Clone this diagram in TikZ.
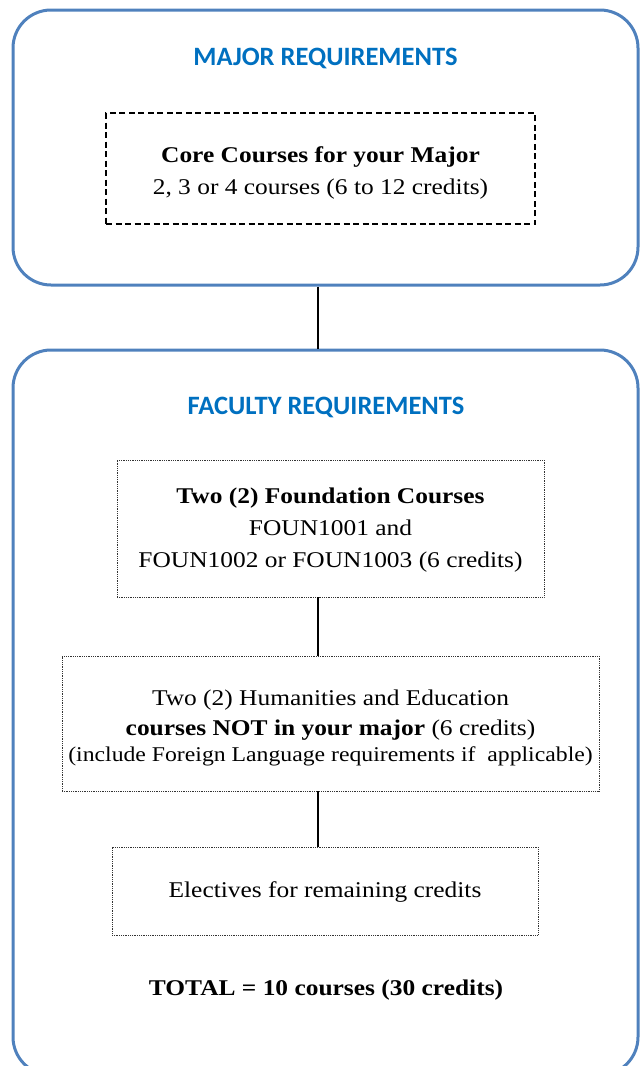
\documentclass[tikz,border=0pt]{standalone}
\usepackage{fontspec}
\setmainfont{Liberation Serif}[FakeStretch=1.13]
\newfontfamily\headfont{Carlito}
\definecolor{frameblue}{HTML}{4F81BD}
\definecolor{headblue}{HTML}{0070C0}
\begin{document}
\begin{tikzpicture}[x=1pt,y=-1pt,
  outerbox/.style={draw=frameblue,line width=3pt,rounded corners=38pt,inner sep=0pt},
  headtext/.style={font=\headfont\bfseries\fontsize{26.5}{30}\selectfont,text=headblue,inner sep=0pt},
  dashbox/.style={draw=black,line width=2pt,dash pattern=on 6pt off 3.5pt,inner sep=0pt,align=center,
    font=\fontsize{22.5}{32}\selectfont},
  dotbox/.style={draw=black!80,line width=0.8pt,densely dotted,inner sep=0pt,align=center,
    font=\fontsize{22.5}{32}\selectfont},
  conn/.style={draw=black,line width=1.5pt},
  plaintext/.style={inner sep=0pt,align=center,font=\fontsize{22.5}{32}\selectfont}]
\useasboundingbox (0,0) rectangle (640,1066);
\clip (0,0) rectangle (640,1066);
% outer boxes
\node[outerbox,minimum width=625pt,minimum height=275pt] (major) at (325.5,147.5) {};
\node[outerbox,minimum width=625pt,minimum height=725pt] (faculty) at (325.5,712.5) {};
% headings
\node[headtext] (majortitle) at (325.5,58) {MAJOR REQUIREMENTS};
\node[headtext] (factitle) at (326,407) {FACULTY REQUIREMENTS};
% core box
\node[dashbox,minimum width=429pt,minimum height=111pt] (core) at (320.5,168.5) {};
\node[plaintext] (coretext) at (320.5,173)
  {\textbf{Core Courses for your Major}\\2, 3 or 4 courses (6 to 12 credits)};
% foundation box
\node[dotbox,minimum width=427pt,minimum height=137pt] (found) at (330.5,528.5) {};
\node[plaintext] (foundtext) at (330.5,530)
  {\textbf{Two (2) Foundation Courses}\\FOUN1001 and\\FOUN1002 or FOUN1003 (6 credits)};
% humanities box
\node[dotbox,minimum width=537pt,minimum height=135pt] (hum) at (330.5,723.5) {};
\node[plaintext] (humtext) at (330.5,728)
  {Two (2) Humanities and Education\\[-2pt]\textbf{courses NOT in your major} (6 credits)\\[-6pt]
   {\fontsize{21}{24}\selectfont (include Foreign Language requirements if\ \ applicable)}};
% electives box
\node[dotbox,minimum width=426pt,minimum height=88pt] (elect) at (325,891) {};
\node[plaintext] (electtext) at (325,892) {Electives for remaining credits};
% total
\node[plaintext] (total) at (326,990) {\textbf{TOTAL = 10 courses (30 credits)}};
% connectors
\draw[conn] (major.south -| 318,0) -- (faculty.north -| 318,0);
\draw[conn] (found.south -| 318,0) -- (hum.north -| 318,0);
\draw[conn] (hum.south -| 318,0) -- (elect.north -| 318,0);
\end{tikzpicture}
\end{document}
